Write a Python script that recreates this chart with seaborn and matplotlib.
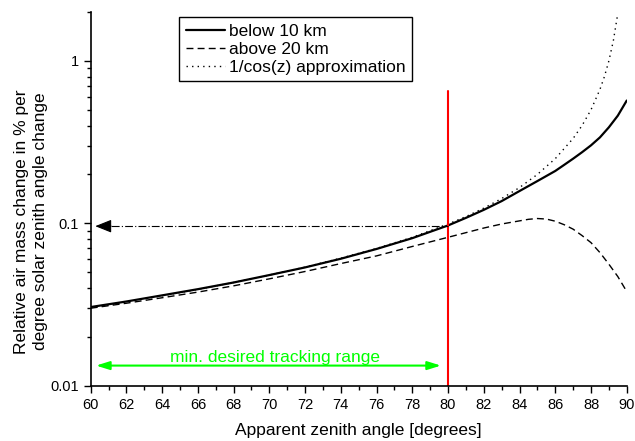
import matplotlib
matplotlib.use("Agg")
import matplotlib.pyplot as plt
import matplotlib.ticker as mticker
import seaborn as sns

# values
zen_below = [60, 62, 64, 66, 68, 70, 72, 74, 76, 78, 80, 81, 82, 83, 84, 85, 86, 86.5, 87, 87.5,
             88, 88.5, 89, 89.5, 90]
rel_below = [0.0305, 0.033, 0.036, 0.0393, 0.0432, 0.048, 0.0535, 0.0605, 0.0695, 0.081, 0.097,
             0.108, 0.121, 0.137, 0.158, 0.182, 0.210, 0.229, 0.250, 0.274, 0.302, 0.338, 0.39,
             0.46, 0.57]

zen_above = [60, 62, 64, 66, 68, 70, 72, 74, 76, 78, 80, 82, 83, 84, 84.5, 85, 85.5, 86, 86.5, 87,
             87.5, 88, 88.5, 89, 89.5, 90]
rel_above = [0.0300, 0.0322, 0.0348, 0.0377, 0.0412, 0.0455, 0.0505, 0.0565, 0.063, 0.072, 0.082,
             0.0935, 0.099, 0.1035, 0.1058, 0.107, 0.1062, 0.103, 0.098, 0.092, 0.084, 0.076,
             0.066, 0.056, 0.047, 0.038]

zen_cos = [60, 62, 64, 66, 68, 70, 72, 74, 76, 78, 80, 81, 82, 83, 84, 85, 86, 87, 87.5, 88, 88.5,
           88.75, 89, 89.25, 89.5]
rel_cos = [0.0302, 0.0328, 0.0358, 0.0392, 0.0432, 0.048, 0.0537, 0.061, 0.070, 0.082, 0.099, 0.110,
           0.124, 0.142, 0.166, 0.20, 0.25, 0.333, 0.40, 0.50, 0.667, 0.80, 1.0, 1.33, 1.96]

limit_angle = 80
limit_top = 0.65
arrow_level = 0.096
range_level = 0.0133
range_start, range_end = 60, 79.6
range_text = "min. desired tracking range"

sns.set_style("ticks")
plt.rcParams["font.family"] = ["Liberation Sans", "DejaVu Sans"]
plt.rcParams["text.color"] = "black"
plt.rcParams["axes.labelcolor"] = "black"
plt.rcParams["xtick.color"] = "black"
plt.rcParams["ytick.color"] = "black"
plt.rcParams["axes.edgecolor"] = "black"

fig = plt.figure(figsize=(6.35, 4.41), dpi=100)
ax = fig.add_axes([0.1428, 0.1254, 0.8442, 0.8474])

sns.lineplot(x=zen_below, y=rel_below, ax=ax, color="black", lw=1.6, label="below 10 km")
sns.lineplot(x=zen_above, y=rel_above, ax=ax, color="black", lw=1.0, linestyle=(0, (5, 3)),
             label="above 20 km")
sns.lineplot(x=zen_cos, y=rel_cos, ax=ax, color="black", lw=1.0, linestyle=(0, (1, 3)),
             label="1/cos(z) approximation")

# red limit line and the arrows
ax.plot([limit_angle, limit_angle], [0.01, limit_top], color="red", lw=1.5)
ax.plot([range_start + 0.4, limit_angle], [arrow_level, arrow_level], color="black", lw=0.8,
        linestyle=(0, (7, 2, 1, 2)))
ax.annotate("", xy=(range_start + 0.1, arrow_level), xytext=(range_start + 1.3, arrow_level),
            arrowprops=dict(arrowstyle="-|>,head_length=1.0,head_width=0.4", color="black", lw=0.8))
ax.annotate("", xy=(range_start + 0.3, range_level), xytext=(range_end, range_level),
            arrowprops=dict(arrowstyle="<|-|>,head_length=0.8,head_width=0.25", color="#00ff00", lw=1.5,
                            shrinkA=0, shrinkB=0))
ax.text(70.3, 0.0139, range_text, color="#00ff00", fontsize=12.5, ha="center", va="baseline")

ax.set_yscale("log")
ax.set_xlim(60, 90)
ax.set_ylim(0.01, 2.0)
ax.xaxis.set_major_locator(mticker.MultipleLocator(2))
ax.xaxis.set_minor_locator(mticker.MultipleLocator(1))
ax.yaxis.set_major_locator(mticker.FixedLocator([0.01, 0.1, 1]))
ax.yaxis.set_major_formatter(mticker.FixedFormatter(["0.01", "0.1", "1"]))
ax.yaxis.set_minor_locator(mticker.LogLocator(subs=range(2, 10)))
ax.yaxis.set_minor_formatter(mticker.NullFormatter())
ax.tick_params(which="major", length=5, width=1, labelsize=10.5)
ax.tick_params(which="minor", length=3, width=1)
ax.set_xlabel("Apparent zenith angle [degrees]", fontsize=12.5, labelpad=8)
ax.set_ylabel("Relative air mass change in % per\ndegree solar zenith angle change", fontsize=12.5,
              linespacing=1.35)
ax.yaxis.set_label_coords(-0.08, 0.44)
sns.despine(ax=ax)
for sp in ["left", "bottom"]:
    ax.spines[sp].set_linewidth(1.2)

leg = ax.legend(loc="upper left", bbox_to_anchor=(0.1647, 0.9866), fontsize=12.5, frameon=True,
                fancybox=False, edgecolor="black", handlelength=2.3, handletextpad=0.2,
                borderpad=0.38, labelspacing=0.16, borderaxespad=0)
leg.get_frame().set_linewidth(1.0)
leg.get_frame().set_alpha(1)

fig.savefig("out.png", dpi=100)
